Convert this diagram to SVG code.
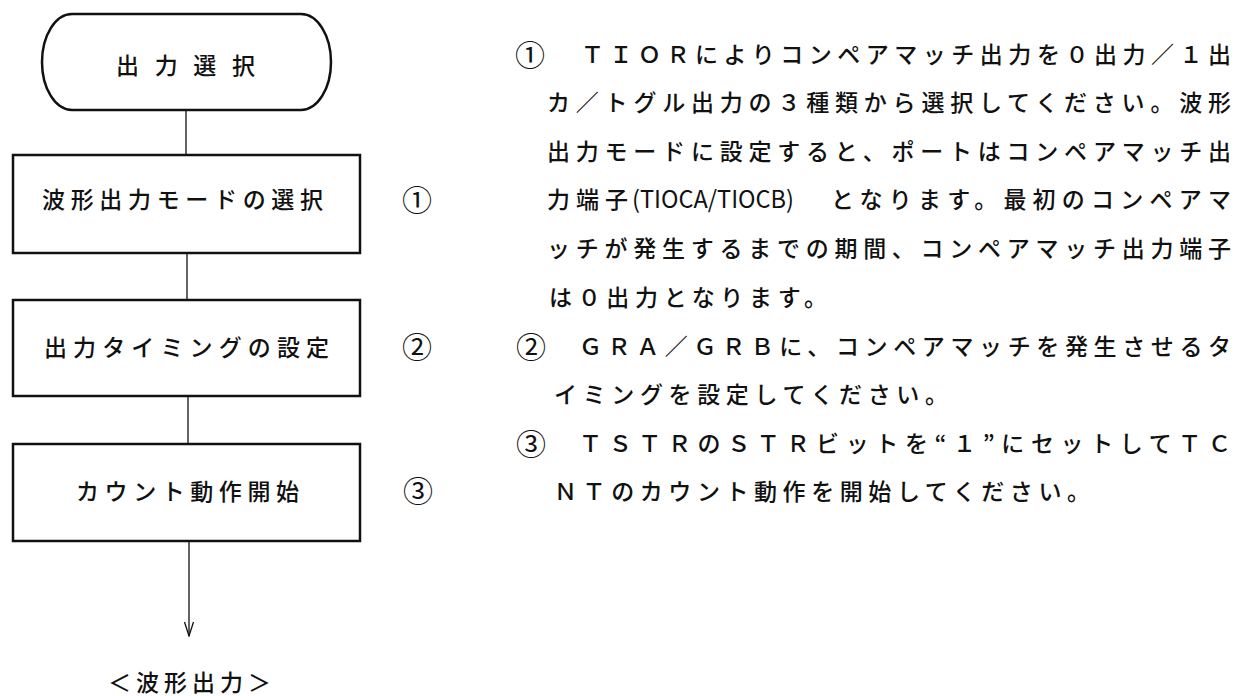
<svg xmlns="http://www.w3.org/2000/svg" width="1237" height="696" viewBox="0 0 1237 696">
<style>
.t{font-family:"Noto Sans CJK JP","Noto Sans",sans-serif;font-size:23px;font-weight:500;fill:#111}
.c{font-size:30px;font-weight:400}
.box{fill:#fff;stroke:#111;stroke-width:2.5}
.ln{stroke:#111;stroke-width:1.3;fill:none}
</style>
<defs>
<marker id="arr" viewBox="0 0 16 12" refX="15" refY="6" markerWidth="16" markerHeight="12" markerUnits="userSpaceOnUse" orient="auto">
<path d="M1,1.5 L15,6 L1,10.5" fill="none" stroke="#111" stroke-width="1.3"/>
</marker>
</defs>
<rect width="1237" height="696" fill="#fff"/>
<g id="connectors">
<line class="ln" x1="186" y1="110" x2="186" y2="155"/>
<line class="ln" x1="187" y1="253" x2="187" y2="300"/>
<line class="ln" x1="188" y1="396" x2="188" y2="444"/>
<line class="ln" x1="189" y1="541" x2="189" y2="636" marker-end="url(#arr)"/>
</g>
<g id="start">
<path class="box" d="M72,14 H301 A30,48 0 0 1 301,110 H72 A30,48 0 0 1 72,14 Z"/>
<text class="t" x="116" y="74" textLength="139" lengthAdjust="spacing">出力選択</text>
</g>
<g id="step1">
<rect class="box" x="13" y="155" width="347" height="98"/>
<text class="t" x="42" y="208" textLength="281" lengthAdjust="spacing">波形出力モードの選択</text>
<text class="t c" x="402" y="211">①</text>
</g>
<g id="step2">
<rect class="box" x="13" y="300" width="347" height="96"/>
<text class="t" x="44" y="356" textLength="285" lengthAdjust="spacing">出力タイミングの設定</text>
<text class="t c" x="402" y="358">②</text>
</g>
<g id="step3">
<rect class="box" x="13" y="444" width="347" height="97"/>
<text class="t" x="76" y="500" textLength="223" lengthAdjust="spacing">カウント動作開始</text>
<text class="t c" x="403" y="502">③</text>
</g>
<g id="end">
<text class="t" x="108" y="691" textLength="163" lengthAdjust="spacing">＜波形出力＞</text>
</g>
<g id="notes">
<text class="t c" x="515" y="66">①</text>
<text class="t" x="581" y="63" textLength="650" lengthAdjust="spacing">ＴＩＯＲによりコンペアマッチ出力を０出力／１出</text>
<text class="t" x="547" y="111" textLength="684" lengthAdjust="spacing">カ／トグル出力の３種類から選択してください。波形</text>
<text class="t" x="547" y="160" textLength="684" lengthAdjust="spacing">出力モードに設定すると、ポートはコンペアマッチ出</text>
<text class="t" y="208"><tspan x="547" textLength="81" lengthAdjust="spacing">力端子</tspan><tspan x="632" font-size="24" font-weight="400" textLength="162" lengthAdjust="spacingAndGlyphs">(TIOCA/TIOCB)</tspan><tspan x="831" textLength="400" lengthAdjust="spacing">となります。最初のコンペアマ</tspan></text>
<text class="t" x="547" y="257" textLength="684" lengthAdjust="spacing">ッチが発生するまでの期間、コンペアマッチ出力端子</text>
<text class="t" x="549" y="306" textLength="278" lengthAdjust="spacing">は０出力となります。</text>
<text class="t c" x="516" y="358">②</text>
<text class="t" x="579" y="355" textLength="652" lengthAdjust="spacing">ＧＲＡ／ＧＲＢに、コンペアマッチを発生させるタ</text>
<text class="t" x="554" y="403" textLength="394" lengthAdjust="spacing">イミングを設定してください。</text>
<text class="t c" x="516" y="455">③</text>
<text class="t" x="579" y="452" textLength="652" lengthAdjust="spacing">ＴＳＴＲのＳＴＲビットを“１”にセットしてＴＣ</text>
<text class="t" x="554" y="500" textLength="536" lengthAdjust="spacing">ＮＴのカウント動作を開始してください。</text>
</g>
</svg>
